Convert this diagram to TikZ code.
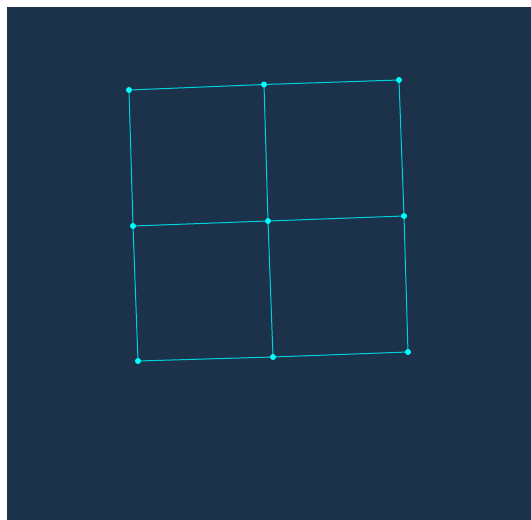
\documentclass[tikz,border=0pt]{standalone}
\definecolor{bg}{RGB}{27,50,74}
\definecolor{ln}{RGB}{0,210,220}
\definecolor{dt}{RGB}{0,255,255}
\begin{document}
\begin{tikzpicture}[x=1pt,y=-1pt,
  pt/.style={circle,fill=dt,inner sep=0pt,minimum size=6pt},
  edge/.style={draw=ln,line width=1pt}]
\useasboundingbox (0,0) rectangle (531,520);
\fill[white] (0,0) rectangle (531,520);
\fill[bg] (7,7) rectangle (531,520);
\coordinate (tl) at (129,90);
\coordinate (tm) at (264,84.5);
\coordinate (tr) at (399,80);
\coordinate (ml) at (133,226);
\coordinate (c) at (268,221);
\coordinate (mr) at (404,216);
\coordinate (bl) at (138,361);
\coordinate (bm) at (273,357);
\coordinate (br) at (408,352);
\draw[edge] (tl) -- (tm) -- (tr);
\draw[edge] (ml) -- (c) -- (mr);
\draw[edge] (bl) -- (bm) -- (br);
\draw[edge] (tl) -- (ml) -- (bl);
\draw[edge] (tm) -- (c) -- (bm);
\draw[edge] (tr) -- (mr) -- (br);
\foreach \p in {tl,tm,tr,ml,c,mr,bl,bm,br}
  \node[pt] at (\p) {};
\end{tikzpicture}
\end{document}
